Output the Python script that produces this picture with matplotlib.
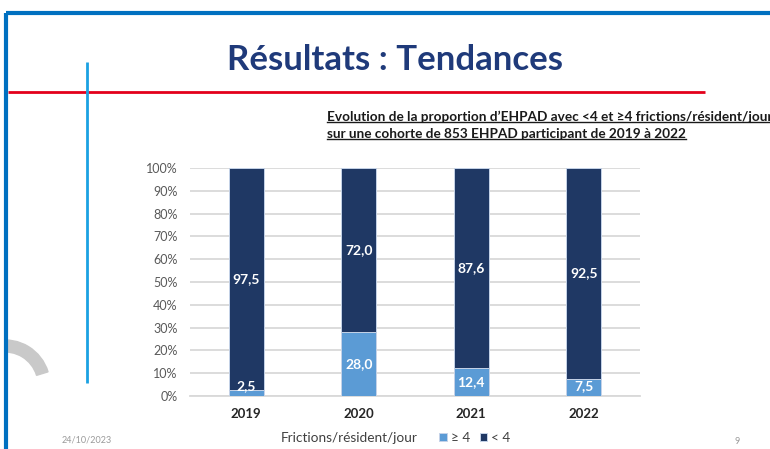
import matplotlib.pyplot as plt
from matplotlib.patches import Wedge, Rectangle
import numpy as np

plt.rcParams['font.family'] = ['Lato', 'DejaVu Sans']

years = ['2019', '2020', '2021', '2022']
ge4 = [2.5, 28.0, 12.4, 7.5]     # >= 4 frictions/resident/jour
lt4 = [97.5, 72.0, 87.6, 92.5]   # < 4
yticks = list(range(0, 101, 10))

light = '#5B9BD5'
dark = '#1F3864'

W, H = 770, 449
fig = plt.figure(figsize=(W / 100, H / 100), dpi=100)

# full-figure layer in pixel coordinates for the slide decoration
deco = fig.add_axes([0, 0, 1, 1])
deco.set_xlim(0, W)
deco.set_ylim(H, 0)
deco.axis('off')

deco.plot([6, W], [13, 13], color='#0070C0', lw=3, solid_capstyle='butt')
deco.plot([8, 705], [92, 92], color='#E3001B', lw=2, solid_capstyle='butt')
deco.plot([87, 87], [62, 383], color='#1BA1E2', lw=2, solid_capstyle='butt')
deco.add_patch(Wedge((5, 385), 45, -100, -17, width=12, color='#C9C9C9'))
deco.add_patch(Rectangle((0, 330), 5, 60, color='white'))
deco.plot([6, 6], [13, H], color='#0070C0', lw=3, solid_capstyle='butt')

deco.text(395, 60, 'Résultats : Tendances', ha='center', va='center',
          fontsize=25, fontweight='bold', color='#1F3A7A')

sub1 = deco.text(327, 117, 'Evolution de la proportion d\u2019EHPAD avec <4 et \u22654 frictions/résident/jour',
                 ha='left', va='center', fontsize=9.8, fontweight='bold', color='#1a1a1a')
sub2 = deco.text(327, 134, 'sur une cohorte de 853 EHPAD participant de 2019 à 2022',
                 ha='left', va='center', fontsize=9.8, fontweight='bold', color='#1a1a1a')

deco.text(62, 440, '24/10/2023', ha='left', va='center', fontsize=6.5, color='#9A9A9A')
deco.text(737, 441, '9', ha='center', va='center', fontsize=6.5, color='#9A9A9A')

# chart
ax = fig.add_axes([190 / W, 1 - 396 / H, 450 / W, 228 / H])
x = np.arange(len(years))
b1 = ax.bar(x, ge4, width=0.31, color=light, edgecolor='#C5D3E8', linewidth=0.7,
            label='\u2265 4', zorder=3)
b2 = ax.bar(x, lt4, width=0.31, bottom=ge4, color=dark, edgecolor='#C5D3E8',
            linewidth=0.7, label='< 4', zorder=3)

for i in range(len(years)):
    ax.text(x[i], max(ge4[i] / 2, 4.3), f'{ge4[i]:.1f}'.replace('.', ','),
            ha='center', va='center', color='white', fontsize=10, fontweight='bold', zorder=4)
    ax.text(x[i], ge4[i] + lt4[i] / 2, f'{lt4[i]:.1f}'.replace('.', ','),
            ha='center', va='center', color='white', fontsize=10, fontweight='bold', zorder=4)

ax.set_xlim(-0.5, 3.5)
ax.set_ylim(0, 100)
ax.set_yticks(yticks)
ax.set_yticklabels([f'{v}%' for v in yticks], fontsize=9, color='#595959')
ax.set_xticks(x)
ax.set_xticklabels(years, fontsize=9.5, fontweight='bold', color='#262626')
ax.tick_params(length=0, pad=9)
ax.tick_params(axis='x', pad=9)
ax.grid(axis='y', color='#D9D9D9', lw=1.3, zorder=0)
for s in ['top', 'right', 'left']:
    ax.spines[s].set_visible(False)
ax.spines['bottom'].set_color('#D9D9D9')
ax.spines['bottom'].set_linewidth(1.3)
ax.set_facecolor('none')

deco.text(281, 438, 'Frictions/résident/jour', ha='left', va='center',
          fontsize=9.8, color='#404040')
fig.legend(handles=[b1, b2], loc='center left', bbox_to_anchor=(427 / W, 1 - 438 / H),
           ncol=2, frameon=False, fontsize=9.8, handlelength=0.55, handleheight=0.55,
           handletextpad=0.3, columnspacing=0.7, labelcolor='#404040')

# underline the subtitle lines
fig.canvas.draw()
r = fig.canvas.get_renderer()
inv = deco.transData.inverted()
for t in (sub1, sub2):
    bb = t.get_window_extent(renderer=r)
    (x0, y0), (x1, _) = inv.transform([[bb.x0, bb.y0], [bb.x1, bb.y1]])
    deco.plot([x0, x1], [y0 - 1, y0 - 1], color='#1a1a1a', lw=1)

fig.savefig('out.png', dpi=100)
